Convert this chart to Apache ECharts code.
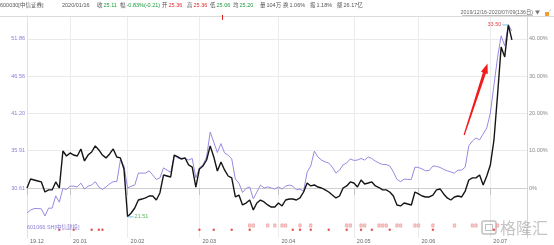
<!DOCTYPE html>
<html><head><meta charset="utf-8">
<script src="https://cdn.jsdelivr.net/npm/echarts@6/dist/echarts.min.js"></script>
<style>html,body{margin:0;padding:0;background:#fff}#c{width:554px;height:245px}</style>
</head><body><div id="c"></div>
<script>
// ---- data ----
const monthLabels = ['19.12','20.01','20.02','20.03','20.04','20.05','20.06','20.07'];
const monthStartIdx = [0,12,28,48,70,91,109,129];
const tickPct = [0,10,20,30,40];
const leftTickLabels = ['30.61','35.91','41.20','46.56','51.86'];
const rightTickLabels = ['0%','10.00%','20.00%','30.00%','40.00%'];
const seriesNames = ['600030[中信证券]','601066.SH[中信建投]'];
// 600030 close prices, 2019/12/16 - 2020/07/09 (136 trading days)
const blackPrices = [
23.31,23.87,23.81,23.75,23.69,23.06,23.19,23.19,23.69,23.31,
25.62,25.31,25.50,25.37,25.31,25.75,25.00,25.37,25.56,25.94,
25.69,25.37,25.19,25.44,25.75,25.25,25.19,24.50,21.51,21.75,
22.06,22.56,22.62,22.69,22.81,22.81,22.56,23.00,24.12,24.06,
24.00,25.37,25.25,25.12,25.19,24.75,24.62,23.37,24.50,24.69,
25.06,25.94,25.25,24.37,24.94,24.44,24.06,23.94,22.75,22.87,
22.25,22.37,22.56,21.94,22.37,22.56,22.44,22.25,22.12,22.12,
22.37,22.19,22.56,22.62,22.62,22.56,22.69,23.06,23.62,23.44,
23.50,23.37,23.31,23.19,23.06,22.87,22.69,22.81,23.31,23.44,
23.69,23.62,23.37,23.81,23.56,23.62,23.69,23.44,23.34,23.19,
23.19,23.06,22.81,22.25,22.19,22.37,22.31,22.25,23.06,22.94,
22.81,22.75,22.75,22.87,23.19,23.25,22.94,22.69,22.56,22.75,
22.81,22.75,23.12,23.81,23.94,23.94,24.12,23.50,24.06,24.75,
26.31,29.12,32.12,31.50,33.50,32.56];
// 601066 overlay, percent on the right axis
const purplePct = [
-6.7,-5.9,-5.5,-5.5,-5.6,-7.5,-5.4,-5.4,-2.1,-3.8,
-0.1,-0.4,0.5,0.5,0.3,1.3,-0.3,0.5,0.8,1.7,
0.3,-0.4,0.3,1.1,1.7,1.7,7.5,5.9,0.0,0.5,
0.8,4.0,4.0,4.0,4.6,3.5,2.3,2.7,5.4,4.8,
4.2,8.8,8.0,8.0,7.9,7.5,7.9,2.7,5.4,6.2,
8.3,15.0,12.3,9.5,11.9,9.4,8.8,7.8,2.4,1.3,
-1.2,-0.1,0.3,-2.9,-1.1,0.8,0.0,0.3,0.0,-0.3,
0.3,-0.3,0.5,0.8,0.5,-0.5,-0.3,-0.9,4.3,5.9,
9.9,8.3,7.5,7.0,6.7,5.6,4.0,4.8,6.2,6.7,
7.8,7.4,7.5,7.9,7.5,8.3,7.9,7.2,6.7,6.3,
6.3,5.9,4.3,2.3,1.7,2.4,2.3,2.3,5.6,5.5,
5.1,4.6,4.7,5.9,5.8,5.5,5.0,4.6,4.3,4.0,
4.8,4.8,5.6,11.3,12.6,13.4,12.9,14.5,16.1,20.1,
27.6,34.9,40.8,38.1,43.7,42.1];
const dotIdx = [9,13,18,20,21,48,52,57,62,74,76,79,84,89,93,96,101,113,130];
const boxIdx = [62,63,67,69,71,72,76,79,89,90,93,94,98,99,100,103,104,108,109,113,119,124,125,131];
const headerItems = [
 ['600030[中信证券]',''],['2020/01/16',''],
 ['收','25.11'],['幅','-0.83%(-0.21)'],['开','25.36'],['高','25.36'],
 ['低','25.06'],['均','25.20'],['量','104万'],['换','1.06%'],['振','1.18%'],['额','26.17亿']];

// ---- build ----
const FONT = '"Liberation Sans","Noto Sans CJK SC",sans-serif';
const base = blackPrices[0];
const blackData = blackPrices.map((p,i)=>[i,(p/base-1)*100]);
const purpleData = purplePct.map((v,i)=>[i,v]);
let maxI=0,minI=0;
blackPrices.forEach((p,i)=>{ if(p>blackPrices[maxI]) maxI=i; if(p<blackPrices[minI]) minI=i; });
const Y_MIN=-13.4, Y_MAX=46.1, DOT_Y=-11.2, BOX_Y=-10.05;

const chart = echarts.init(document.getElementById('c'), null, {renderer:'canvas'});
const yCommon = {type:'value', min:Y_MIN, max:Y_MAX, axisTick:{show:false, customValues:tickPct}};
chart.setOption({
  animation:false,
  grid:{left:27,right:27,top:16,bottom:7},
  xAxis:{type:'value',min:0,max:139.2,
    axisLine:{show:true,lineStyle:{color:'#cfcfcf',width:1}},
    axisTick:{show:true,customValues:monthStartIdx,length:7,lineStyle:{color:'#c4c4c4'}},
    axisLabel:{customValues:monthStartIdx,formatter:v=>monthLabels[monthStartIdx.indexOf(v)]||'',
      align:'left',padding:[0,0,0,3],margin:1,fontSize:5.5,color:'#666',fontFamily:FONT},
    splitLine:{show:true,lineStyle:{color:'#ececec',width:1}}},
  yAxis:[
    Object.assign({},yCommon,{position:'left',
      axisLine:{show:true,lineStyle:{color:'#e2e2e2'}},
      axisLabel:{customValues:tickPct,formatter:v=>leftTickLabels[tickPct.indexOf(v)]||'',
        fontSize:5.5,color:'#8b7fd4',margin:2,fontFamily:FONT},
      splitLine:{show:false}}),
    Object.assign({},yCommon,{position:'right',
      axisLine:{show:true,lineStyle:{color:'#d4d4d4'}},
      axisLabel:{customValues:tickPct,formatter:v=>rightTickLabels[tickPct.indexOf(v)]||'',
        fontSize:5.5,color:'#888',margin:2,fontFamily:FONT},
      splitLine:{show:true,lineStyle:{color:'#eaeaea',width:1}}})
  ],
  series:[
    {name:seriesNames[1],type:'line',yAxisIndex:1,data:purpleData,symbol:'none',z:2,
      lineStyle:{color:'#9a88e0',width:1},itemStyle:{color:'#9a88e0'}},
    {name:seriesNames[0],type:'line',yAxisIndex:1,data:blackData,symbol:'none',z:3,
      lineStyle:{color:'#151515',width:1.4},itemStyle:{color:'#151515'},
      markPoint:{symbol:'rect',symbolSize:[6,1],silent:true,
        data:[
          {coord:[maxI,blackData[maxI][1]],symbolOffset:[-3,0],itemStyle:{color:'#7cc6e8'},
            label:{show:true,position:'left',distance:1,formatter:blackPrices[maxI].toFixed(2),
              color:'#e64545',fontSize:5.5,fontFamily:FONT}},
          {coord:[minI,blackData[minI][1]],symbolOffset:[3,0],itemStyle:{color:'#7cc6e8'},
            label:{show:true,position:'right',distance:1,formatter:blackPrices[minI].toFixed(2),
              color:'#5cb85c',fontSize:5.5,fontFamily:FONT}}
        ]}},
    {type:'scatter',yAxisIndex:1,data:dotIdx.map(i=>[i,DOT_Y]),symbol:'circle',symbolSize:2.4,
      clip:false,silent:true,itemStyle:{color:'#e02a2a'}},
    {type:'scatter',yAxisIndex:1,data:boxIdx.map(i=>[i,BOX_Y]),symbol:'rect',symbolSize:[2.4,3.2],
      clip:false,silent:true,itemStyle:{color:'#f6c4c4',borderColor:'#e47070',borderWidth:0.5}}
  ]
});

// ---- annotations ----
function txt(x,y,text,color,size,align){
  return {type:'text',x:x,y:y,silent:true,z:10,style:{text:text,fill:color,fontSize:size||5.5,
    fontFamily:FONT,verticalAlign:'middle',align:align||'left'}};
}
const HDR_X = [0,62,97,120,162,187,210,233,260,283,310,337];
const HDR_COL = ['','','#1a9a3a','#1a9a3a','#e02b2b','#e02b2b','#1a9a3a','#1a9a3a','#555','#555','#555','#555'];
const g = [];
headerItems.forEach((h,k)=>{
  g.push(txt(HDR_X[k],5.5,h[0],'#555'));
  if(h[1]) g.push(txt(HDR_X[k]+6.5,5.5,h[1],HDR_COL[k]));
});
g.push({type:'line',silent:true,shape:{x1:0,y1:16.5,x2:554,y2:16.5},style:{stroke:'#dcdcdc',lineWidth:1}});
g.push(txt(533,13,'2019/12/16-2020/07/09(136日)','#666',5.3,'right'));
g.push({type:'line',silent:true,shape:{x1:462,y1:15.5,x2:533,y2:15.5},style:{stroke:'#888',lineWidth:0.5}});
g.push({type:'polygon',silent:true,shape:{points:[[535,10.5],[540,10.5],[537.5,14.5]]},style:{fill:'#777'}});
g.push({type:'rect',silent:true,shape:{x:545,y:12,width:4,height:4},style:{fill:'#f0a030'}});
g.push({type:'line',silent:true,shape:{x1:549,y1:12,x2:551,y2:9},style:{stroke:'#bbb',lineWidth:0.7}});
g.push({type:'line',silent:true,shape:{x1:222.5,y1:15,x2:222.5,y2:20},style:{stroke:'#e02020',lineWidth:1}});
g.push(txt(27,227,seriesNames[1],'#8b7fd4',5.5));
// watermark
g.push({type:'rect',silent:true,shape:{x:482,y:221,width:14,height:13,r:2},style:{fill:'none',stroke:'rgba(150,150,150,0.6)',lineWidth:1.5}});
g.push({type:'rect',silent:true,shape:{x:485.5,y:224.5,width:7,height:6},style:{fill:'none',stroke:'rgba(150,150,150,0.6)',lineWidth:1}});
g.push({type:'text',x:500,y:228,silent:true,z:10,style:{text:'格隆汇',fill:'rgba(165,165,165,0.65)',
  fontSize:16,fontFamily:'"Noto Sans CJK SC",sans-serif',verticalAlign:'middle'}});
// red arrow annotation (data space)
const a0 = chart.convertToPixel({seriesIndex:1},[121.7,14.2]);
const a1 = chart.convertToPixel({seriesIndex:1},[128.2,33.4]);
(function(){
  const dx=a1[0]-a0[0], dy=a1[1]-a0[1], L=Math.sqrt(dx*dx+dy*dy);
  const ux=dx/L, uy=dy/L, nx=-uy, ny=ux, H=10;
  const bx=a1[0]-ux*H, by=a1[1]-uy*H;
  const P=(x,y,w)=>[x+nx*w,y+ny*w];
  g.push({type:'polygon',silent:true,z:20,shape:{points:[
    P(a0[0],a0[1],0.6),P(bx,by,1.6),P(bx,by,3.6),[a1[0],a1[1]],
    P(bx,by,-3.6),P(bx,by,-1.6),P(a0[0],a0[1],-0.6)]},style:{fill:'#f21c1c'}});
})();
chart.setOption({graphic:g});
</script></body></html>
